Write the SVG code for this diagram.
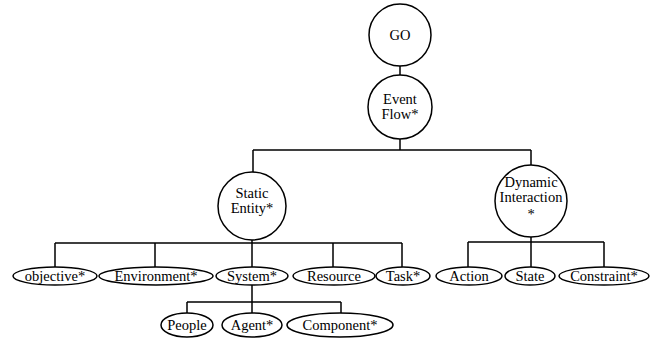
<svg xmlns="http://www.w3.org/2000/svg" width="658" height="339" viewBox="0 0 658 339">
<style>
.n{fill:#fff;stroke:#000;stroke-width:1.5}
.c{fill:none;stroke:#000;stroke-width:1.5}
text{font-family:'Liberation Serif',serif;font-size:14.5px;fill:#000;text-anchor:middle}
</style>
<rect width="658" height="339" fill="#fff"/>
<g id="connectors" class="c">
<path d="M400 65V75M400 139V150M253 150H531M253 150V173M531 150V165"/>
<path d="M252 239V243M55 243H402M55 243V267M155 243V267M252 243V267M333 243V267M402 243V267"/>
<path d="M531 237V242M468 242H604M468 242V267M531 242V267M604 242V267"/>
<path d="M252 285V302M187 302H341M187 302V313M252 302V313M341 302V313"/>
</g>
<g font-family="Liberation Serif, serif">
<g id="go"><circle class="n" cx="400" cy="35" r="31"/><text x="400" y="40">GO</text></g>
<g id="eventflow"><circle class="n" cx="400" cy="107" r="32"/><text x="400" y="104">Event</text><text x="400" y="119">Flow*</text></g>
<g id="static"><circle class="n" cx="252" cy="206" r="34"/><text x="252" y="198">Static</text><text x="252" y="213">Entity*</text></g>
<g id="dynamic"><circle class="n" cx="531" cy="201" r="36"/><text x="531" y="187">Dynamic</text><text x="531" y="202">Interaction</text><text x="531" y="219">*</text></g>
<g id="objective"><ellipse class="n" cx="55" cy="276" rx="42" ry="9"/><text x="55" y="281">objective*</text></g>
<g id="environment"><ellipse class="n" cx="156" cy="276" rx="57" ry="9"/><text x="156" y="281">Environment*</text></g>
<g id="system"><ellipse class="n" cx="252" cy="276" rx="36" ry="9"/><text x="252" y="281">System*</text></g>
<g id="resource"><ellipse class="n" cx="334" cy="276" rx="41" ry="9"/><text x="334" y="281">Resource</text></g>
<g id="task"><ellipse class="n" cx="403" cy="276" rx="27" ry="9"/><text x="403" y="281">Task*</text></g>
<g id="action"><ellipse class="n" cx="469" cy="276" rx="33" ry="9"/><text x="469" y="281">Action</text></g>
<g id="state"><ellipse class="n" cx="530" cy="276" rx="25" ry="9"/><text x="530" y="281">State</text></g>
<g id="constraint"><ellipse class="n" cx="604" cy="276" rx="45" ry="9"/><text x="604" y="281">Constraint*</text></g>
<g id="people"><ellipse class="n" cx="187" cy="325" rx="26" ry="12"/><text x="187" y="330">People</text></g>
<g id="agent"><ellipse class="n" cx="252" cy="325" rx="30" ry="12"/><text x="252" y="330">Agent*</text></g>
<g id="component"><ellipse class="n" cx="340" cy="325" rx="53" ry="12"/><text x="340" y="330">Component*</text></g>
</g>
</svg>
